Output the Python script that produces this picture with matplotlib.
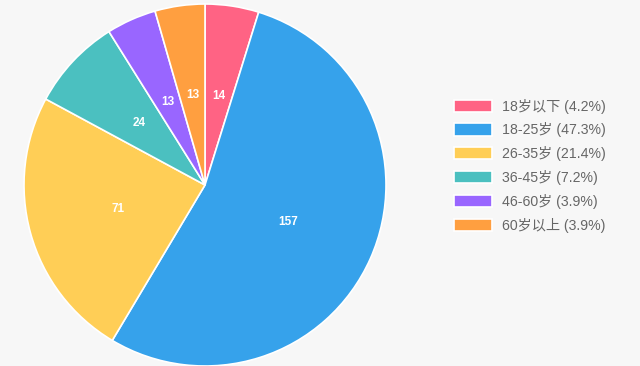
import matplotlib
matplotlib.use("Agg")
import matplotlib.pyplot as plt

plt.rcParams['font.family'] = ['Liberation Sans', 'Noto Sans CJK SC', 'DejaVu Sans']

categories = ['18岁以下', '18-25岁', '26-35岁', '36-45岁', '46-60岁', '60岁以上']
values = [14, 157, 71, 24, 13, 13]
percents = ['4.2%', '47.3%', '21.4%', '7.2%', '3.9%', '3.9%']
colors = ['#FF6384', '#36A2EB', '#FFCE56', '#4BC0C0', '#9966FF', '#FF9F40']

W, H = 640, 366
fig = plt.figure(figsize=(W / 100, H / 100), dpi=100)
bg = '#f7f7f7'
fig.patch.set_facecolor(bg)

cx, cy, r = 205, 185, 181
ax = fig.add_axes([(cx - r) / W, (H - cy - r) / H, 2 * r / W, 2 * r / H])
ax.set_facecolor(bg)

wedges, texts = ax.pie(values, colors=colors, startangle=90, counterclock=False,
                       labels=[str(v) for v in values], labeldistance=0.5,
                       wedgeprops=dict(edgecolor='white', linewidth=1.2),
                       textprops=dict(color='white', fontsize=8.5, fontweight='bold'))
for t in texts:
    t.set_horizontalalignment('center')
ax.set_aspect('equal')
ax.set_xlim(-1, 1)
ax.set_ylim(-1, 1)
ax.axis('off')

leg_labels = [f'{c} ({p})' for c, p in zip(categories, percents)]
leg = fig.legend(wedges, leg_labels, loc='upper left',
                 bbox_to_anchor=(448 / W, 1 - 93 / H), frameon=False,
                 fontsize=10.2, handlelength=2.7, handleheight=0.95,
                 labelspacing=0.62, handletextpad=0.7, borderaxespad=0)
for t in leg.get_texts():
    t.set_color('#666666')

fig.savefig('out.png', dpi=100, facecolor=bg)
